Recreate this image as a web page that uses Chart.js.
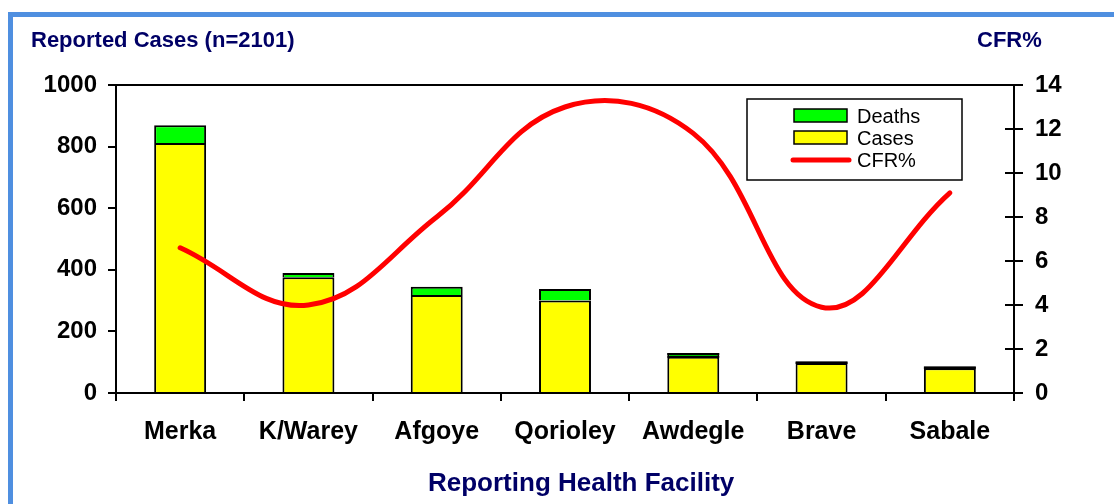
<!DOCTYPE html>
<html>
<head>
<meta charset="utf-8">
<script src="https://cdn.jsdelivr.net/npm/chart.js@4.4.1/dist/chart.umd.min.js"></script>
<style>
  body { margin: 0; background: #fff; }
  #wrap { position: relative; width: 1114px; height: 504px; overflow: hidden; background: #fff; }
  #frame { position: absolute; left: 8px; top: 12px; width: 1200px; height: 600px;
           border-top: 5px solid #4f8fe0; border-left: 5px solid #4f8fe0; }
  canvas { position: absolute; left: 0; top: 0; }
  .ttl { position: absolute; font-family: Arial, "Liberation Sans", sans-serif; font-weight: bold;
         color: #000066; line-height: 1; white-space: nowrap; }
</style>
</head>
<body>
<div id="wrap">
  <div id="frame"></div>
  <canvas id="myChart" width="1114" height="504"></canvas>
  <div class="ttl" style="left:31px; top:29px; font-size:22px;">Reported Cases (n=2101)</div>
  <div class="ttl" style="left:977px; top:29px; font-size:22px;">CFR%</div>
  <div class="ttl" style="left:428px; top:469px; font-size:26px;">Reporting Health Facility</div>
</div>
<script>
// data
var facilities = ["Merka", "K/Warey", "Afgoye", "Qorioley", "Awdegle", "Brave", "Sabale"];
var cases = [812, 376, 318, 300, 118, 97, 80];
var deaths = [57, 14, 27, 38, 12, 5, 6];
var cfr = [6.6, 4.0, 8.0, 13.0, 11.8, 3.9, 9.1];

var fontFam = 'Arial, "Liberation Sans", sans-serif';
Chart.defaults.font.family = fontFam;

// top line of the plot box + legend box + ticks crossing the right axis
var extras = {
    id: "extras",
    beforeDatasetsDraw: function (chart) {
        var c = chart.ctx, a = chart.chartArea;
        c.save();
        c.strokeStyle = "#000";
        c.lineWidth = 2;
        c.beginPath();
        c.moveTo(a.left, a.top);
        c.lineTo(a.right, a.top);
        c.stroke();
        // inner half of the right axis ticks
        var y2 = chart.scales.y2;
        y2.ticks.forEach(function (t) {
            var py = y2.getPixelForValue(t.value);
            c.beginPath();
            c.moveTo(a.right - 9, py);
            c.lineTo(a.right, py);
            c.stroke();
        });
        c.restore();
    },
    afterDatasetsDraw: function (chart) {
        // thin death segments: Excel shows them as a dark cap on the bar
        var c = chart.ctx;
        var meta = chart.getDatasetMeta(1);
        c.save();
        c.strokeStyle = "#000";
        c.lineWidth = 2;
        meta.data.forEach(function (bar) {
            var h = bar.base - bar.y;
            if (h < 4) {
                c.beginPath();
                c.moveTo(bar.x - bar.width / 2, bar.y + 1);
                c.lineTo(bar.x + bar.width / 2, bar.y + 1);
                c.moveTo(bar.x - bar.width / 2, bar.base);
                c.lineTo(bar.x + bar.width / 2, bar.base);
                c.stroke();
            }
        });
        c.restore();
    },
    afterDraw: function (chart) {
        var c = chart.ctx;
        var ds = chart.data.datasets;
        c.save();
        c.fillStyle = "#fff";
        c.fillRect(747, 99, 215, 81);
        c.strokeStyle = "#000";
        c.lineWidth = 1.5;
        c.strokeRect(747, 99, 215, 81);
        // legend order: Deaths, Cases, CFR%
        var rows = [ds[1], ds[0], ds[2]];
        var baseY = [123, 145, 167];
        c.font = "20px " + fontFam;
        c.textBaseline = "alphabetic";
        rows.forEach(function (d, i) {
            var cy = baseY[i] - 7;
            if (d.type === "line") {
                c.strokeStyle = d.borderColor;
                c.lineWidth = 5;
                c.lineCap = "round";
                c.beginPath();
                c.moveTo(793, cy);
                c.lineTo(849, cy);
                c.stroke();
            } else {
                c.fillStyle = d.backgroundColor;
                c.fillRect(794, cy - 7, 53, 13);
                c.strokeStyle = "#000";
                c.lineWidth = 1.5;
                c.strokeRect(794, cy - 7, 53, 13);
            }
            c.fillStyle = "#000";
            c.fillText(d.label, 857, baseY[i]);
        });
        c.restore();
    }
};

var ctx = document.getElementById("myChart");
var myChart = new Chart(ctx, {
    type: "bar",
    data: {
        labels: facilities,
        datasets: [{
            label: "Cases",
            data: cases,
            backgroundColor: "#ffff00",
            borderColor: "#000",
            borderWidth: 2,
            borderSkipped: "start",
            yAxisID: "y",
            order: 2
        }, {
            label: "Deaths",
            data: deaths,
            backgroundColor: "#00ff00",
            borderColor: "#000",
            borderWidth: 2,
            borderSkipped: "start",
            yAxisID: "y",
            order: 2
        }, {
            type: "line",
            label: "CFR%",
            data: cfr,
            borderColor: "#ff0000",
            borderWidth: 5,
            borderCapStyle: "round",
            tension: 0.4,
            pointRadius: 0,
            fill: false,
            yAxisID: "y2",
            order: 1
        }]
    },
    options: {
        responsive: false,
        animation: false,
        categoryPercentage: 1,
        barPercentage: 0.405,
        layout: { padding: { top: 85, left: 0, right: 0, bottom: 0 } },
        plugins: { legend: { display: false }, tooltip: { enabled: false } },
        scales: {
            x: {
                stacked: true,
                offset: true,
                grid: { offset: true, drawOnChartArea: false, tickLength: 8, color: "#000", lineWidth: 2 },
                border: { color: "#000", width: 2 },
                ticks: { color: "#000", padding: 16, font: { size: 25, weight: "bold" }, maxRotation: 0 },
                afterFit: function (s) { s.height = 111; }
            },
            y: {
                stacked: true,
                position: "left",
                min: 0,
                max: 1000,
                grid: { drawOnChartArea: false, tickLength: 8, color: "#000", lineWidth: 2 },
                border: { color: "#000", width: 2 },
                ticks: {
                    stepSize: 200, color: "#000", padding: 11, font: { size: 24, weight: "bold" },
                    callback: function (v) { return String(v); }
                },
                afterFit: function (s) { s.width = 116; }
            },
            y2: {
                position: "right",
                min: 0,
                max: 14,
                grid: { drawOnChartArea: false, tickLength: 9, color: "#000", lineWidth: 2 },
                border: { color: "#000", width: 2 },
                ticks: {
                    stepSize: 2, color: "#000", padding: 12, font: { size: 24, weight: "bold" },
                    callback: function (v) { return String(v); }
                },
                afterFit: function (s) { s.width = 100; }
            }
        }
    },
    plugins: [extras]
});
</script>
</body>
</html>
